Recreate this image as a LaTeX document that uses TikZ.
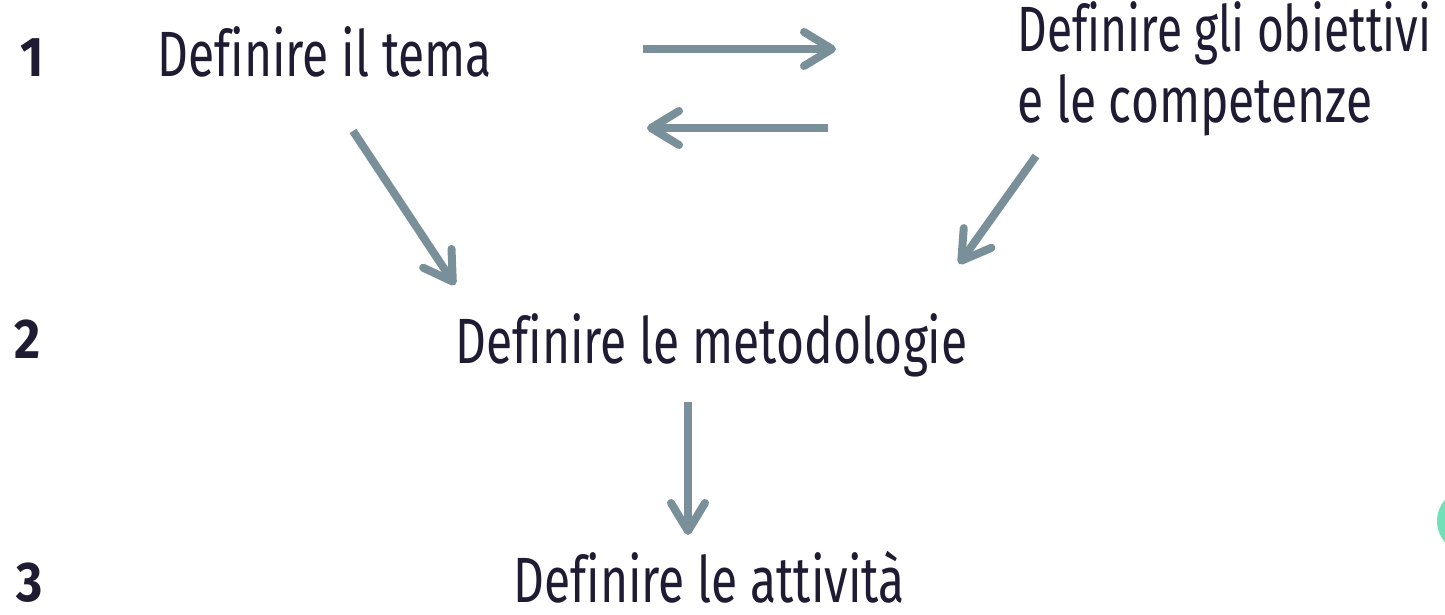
\documentclass[tikz,border=0pt]{standalone}
\usepackage{fontspec}
\usetikzlibrary{arrows.meta}
\newfontfamily\labfont{Fira Sans}[FakeStretch=0.75, Ligatures=NoCommon]
\newfontfamily\numfont{Fira Sans}[FakeStretch=0.9]
\definecolor{ink}{HTML}{1E1B33}
\definecolor{arrowgray}{HTML}{798F9A}
\definecolor{mint}{HTML}{6FE0B8}
\tikzset{
  lab/.style={anchor=base west, inner sep=0pt, text=ink, font=\labfont\fontsize{32}{36}\selectfont},
  num/.style={anchor=base west, inner sep=0pt, text=ink, font=\numfont\bfseries\fontsize{28}{32}\selectfont},
  flow/.style={draw=arrowgray, line width=4pt, line cap=butt,
    -{Straight Barb[length=14pt, width=17pt, line cap=round, line join=round]}},
}
\begin{document}
\begin{tikzpicture}[x=0.5pt, y=-0.5pt]
\useasboundingbox (0,0) rectangle (1445,615);
% numbers
\node[num] (n1) at (20,77) {1};
\node[num] (n2) at (14,358) {2};
\node[num] (n3) at (16,601) {3};
% texts
\node[lab] (tema) at (157,77) {Definire il tema};
\node[lab] (obi) at (1017,52) {\scalebox{0.96}[1]{Definire gli obiettivi}};
\node[lab] (comp) at (1017,123) {e le competenze};
\node[lab] (meto) at (455,363) {Definire le metodologie};
\node[lab] (att) at (513,602) {Definire le attività};
% arrow ends
\coordinate (r1) at (643,49);
\coordinate (r2) at (836,49);
\coordinate (l1) at (828,128);
\coordinate (l2) at (647,128);
\coordinate (d1) at (353,131);
\coordinate (d2) at (455,285);
\coordinate (e1) at (1036,156);
\coordinate (e2) at (959,264);
\coordinate (v1) at (688,402);
\coordinate (v2) at (688,535);
\draw[flow] (r1) -- (r2);
\draw[flow] (l1) -- (l2);
\draw[flow] (d1) -- (d2);
\draw[flow] (e1) -- (e2);
\draw[flow] (v1) -- (v2);
% green blob at right edge
\begin{scope}
\clip (0,0) rectangle (1445,615);
\fill[mint] (1469,521) circle[radius=32];
\end{scope}
\end{tikzpicture}
\end{document}
